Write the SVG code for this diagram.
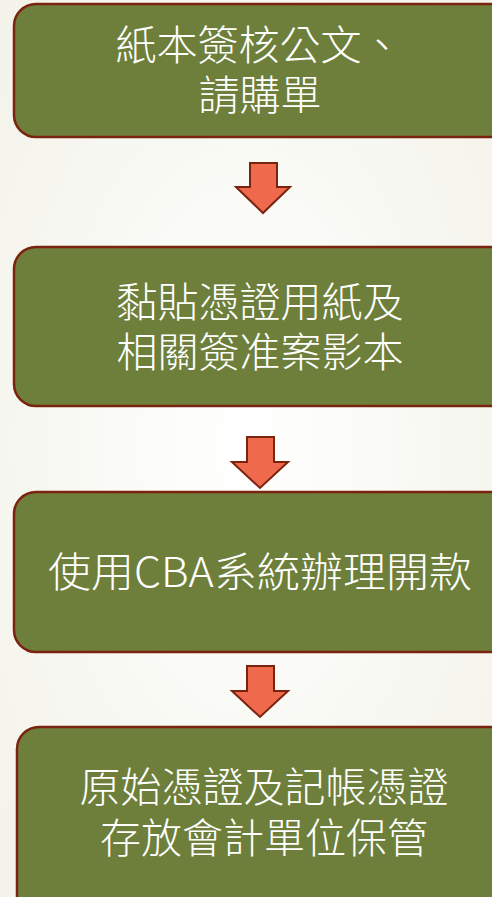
<svg xmlns="http://www.w3.org/2000/svg" width="492" height="897" viewBox="0 0 492 897">
<defs>
<radialGradient id="bg" cx="0.5" cy="0.5" r="0.8">
<stop offset="0" stop-color="#ffffff"/>
<stop offset="1" stop-color="#f1f1e6"/>
</radialGradient>
</defs>
<style>
.box{fill:#6e7f3c;stroke:#7a2410;stroke-width:2.5}
.arrow{fill:#ef6a4c;stroke:#7a2410;stroke-width:2;stroke-linejoin:miter}
.t{fill:#ffffff;font-family:"Noto Sans CJK TC","Noto Sans",sans-serif;font-weight:300;font-size:41px;text-anchor:middle}
</style>
<rect x="0" y="0" width="492" height="897" fill="url(#bg)"/>
<g id="connectors">
<polygon class="arrow" points="250,163 277,163 277,187 290,187 263,213 236,187 250,187"/>
<polygon class="arrow" points="247,437 274,437 274,462 288,462 260,488 232,462 247,462"/>
<polygon class="arrow" points="247,666 274,666 274,691 288,691 260,717 232,691 247,691"/>
</g>
<g id="node1">
<rect class="box" x="14" y="4" width="500" height="133" rx="22"/>
<text class="t" x="259" y="60">紙本簽核公文、</text>
<text class="t" x="260" y="110">請購單</text>
</g>
<g id="node2">
<rect class="box" x="14" y="247" width="500" height="159" rx="22"/>
<text class="t" x="260" y="317">黏貼憑證用紙及</text>
<text class="t" x="260" y="367">相關簽准案影本</text>
</g>
<g id="node3">
<rect class="box" x="14" y="492" width="500" height="160" rx="22"/>
<text class="t" x="260" y="587" textLength="424" lengthAdjust="spacingAndGlyphs">使用CBA系統辦理開款</text>
</g>
<g id="node4">
<rect class="box" x="17" y="727" width="500" height="200" rx="22"/>
<text class="t" x="264" y="802">原始憑證及記帳憑證</text>
<text class="t" x="264" y="853">存放會計單位保管</text>
</g>
</svg>
